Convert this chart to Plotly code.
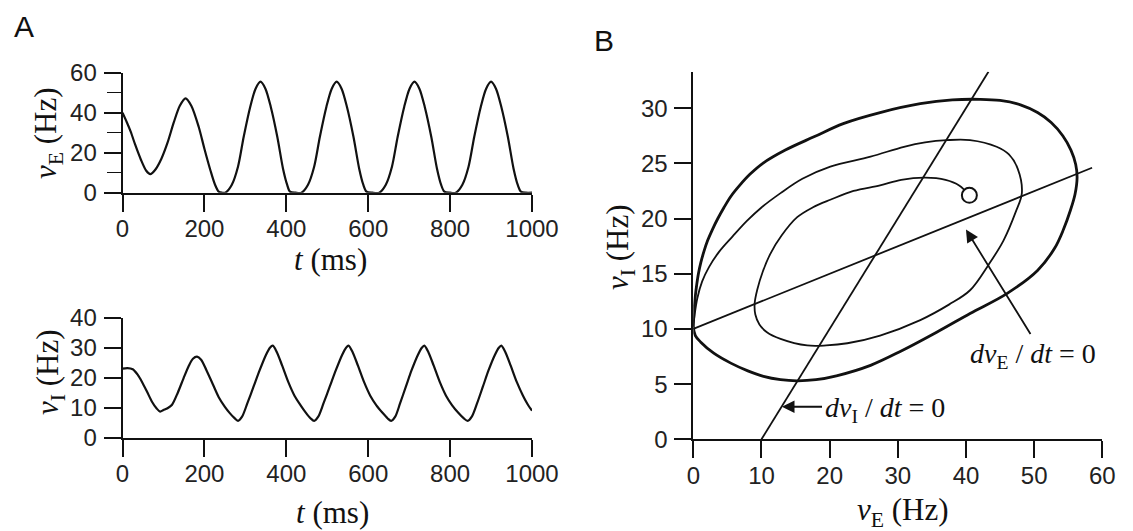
import plotly.graph_objects as go

# ---------------- data ----------------
# Panel A (top): excitatory rate v_E(t)
t_E = [0, 10, 20, 31, 45, 58, 68, 80, 95, 110, 125, 140, 154, 168, 186, 200, 215, 226, 235, 243, 251,
       267, 282, 296, 312, 325, 337, 349, 362, 378, 392, 402, 409, 423, 437,
       453, 468, 482, 498, 511, 523, 535, 548, 564, 578, 588, 596, 610, 627,
       643, 658, 672, 688, 701, 713, 725, 738, 754, 768, 778, 786, 800, 814,
       830, 845, 859, 875, 888, 900, 912, 925, 941, 955, 965, 973, 985, 1000]
v_E = [40, 35.5, 30.5, 24, 16.5, 11, 9.3, 11.5, 17, 25, 35, 43.5, 47.2, 43.5, 33, 22, 11, 4, 0.5, 0, 0,
       4, 13, 28, 43, 52, 55.5, 52, 43, 28, 12, 4, 0.5, 0, 0,
       4, 13, 28, 43, 52, 55.5, 52, 43, 28, 12, 4, 0.5, 0, 0,
       4, 13, 28, 43, 52, 55.5, 52, 43, 28, 12, 4, 0.5, 0, 0,
       4, 13, 28, 43, 52, 55.5, 52, 43, 28, 12, 4, 0.5, 0, 0]

# Panel A (bottom): inhibitory rate v_I(t)
t_I = [0, 12, 25, 37, 48, 60, 72, 83, 92, 100, 110, 121, 135, 149, 162, 172, 182, 192, 205, 220, 235, 250, 262, 273, 282,
       292, 305, 320, 335, 350, 360, 367, 377, 390, 405, 420, 435, 448, 459, 468,
       478, 491, 506, 521, 536, 546, 552, 562, 575, 590, 605, 620, 635, 647, 656,
       666, 678, 692, 706, 721, 731, 737, 747, 760, 775, 790, 805, 820, 833, 843,
       853, 866, 880, 894, 909, 919, 925, 935, 948, 963, 978, 990, 1000]
v_I = [23, 23.2, 22.8, 21, 18.5, 15.3, 12, 9.8, 8.7, 9.2, 9.8, 11, 15, 19.8, 24, 26.3, 27, 26, 22.5, 18, 13.5, 10.3, 8.2, 6.6, 5.6,
       7, 11.5, 17, 22.5, 27.5, 30, 30.7, 28.5, 24, 18.5, 14, 10.8, 8.3, 6.5, 5.6,
       7, 11.5, 17, 22.5, 27.5, 30, 30.7, 28.5, 24, 18.5, 14, 10.8, 8.3, 6.5, 5.6,
       7, 11.5, 17, 22.5, 27.5, 30, 30.7, 28.5, 24, 18.5, 14, 10.8, 8.3, 6.5, 5.6,
       7, 11.5, 17, 22.5, 27.5, 30, 30.7, 28.5, 24, 18.5, 14, 11, 9]

# Panel B: spiral trajectory from the initial point outwards
spiral_E = [40.5, 39, 37, 34, 30.5, 27.4, 23.5, 20.1, 17.5, 15.2, 13, 11.3, 10.2, 9.4, 9.0, 9.1, 9.7, 10.8, 12.8, 16.7, 19.5,
            22.6, 27.4, 33.3, 37.5, 40.6, 43.3, 45.5, 47.3, 48.2, 47.6, 46.3, 44.5, 40.6, 37.2, 34, 30.9, 26,
            20.1, 16, 12.8, 10, 7.9, 5.8, 3.8, 2.3, 1.3, 0.6, 0.2, 0.0]
spiral_I = [22.1, 23.0, 23.5, 23.7, 23.5, 23.0, 22.5, 21.7, 21.0, 20.1, 18.5, 16.8, 15.2, 13.6, 12.3, 11.3, 10.4, 9.7, 9.1, 8.5, 8.5,
            8.7, 9.4, 10.8, 12.2, 13.5, 15.8, 18, 20.6, 22.3, 24.5, 25.8, 26.5, 27.1, 27.1, 26.9, 26.5, 25.6,
            24.7, 23.6, 22.3, 21, 19.8, 18.4, 17, 15.6, 14.3, 12.8, 11.3, 10.2]

# Panel B: limit cycle
cycle_E = [0.0, 0.3, 1.1, 3, 5.5, 8, 10.3, 12.8, 15.2, 18, 21, 26, 30.5, 35.7, 40.6, 46, 50.5, 53, 54.3, 55.3,
           56.0, 56.3, 56.1, 55.4, 54.2, 52.5, 50.5, 48, 45, 42, 38, 33.3, 27.4, 22, 17.7, 13.5, 10.2, 8.3, 6.8, 5.5,
           4.5, 3.6, 2.8, 2.1, 1.55, 1.1, 0.75, 0.5, 0.3, 0.15, 0.05, 0.0]
cycle_I = [10.2, 9.4, 8.8, 7.8, 6.9, 6.2, 5.7, 5.4, 5.3, 5.4, 5.75, 6.7, 8.0, 9.7, 11.4, 13.2, 15.3, 17.3, 19.0, 20.7,
           22.2, 23.7, 24.9, 26.2, 27.5, 28.7, 29.6, 30.3, 30.7, 30.8, 30.75, 30.4, 29.6, 28.6, 27.4, 26.2, 25, 24, 23, 22,
           21, 20, 19, 18, 17, 16, 15, 14, 13, 12, 11, 10.2]

# Nullclines (straight lines, end points)
nullE_E = [0, 58.5]
nullE_I = [10, 24.6]
nullI_E = [10, 43.3]
nullI_I = [0, 33.3]

start_E = [40.5]
start_I = [22.1]

t_ticks = [0, 200, 400, 600, 800, 1000]
vE_ticks = [0, 20, 40, 60]
vE_minor = [10, 30, 50]
vI_ticks = [0, 10, 20, 30, 40]
B_x_ticks = [0, 10, 20, 30, 40, 50, 60]
B_y_ticks = [0, 5, 10, 15, 20, 25, 30]

# ---------------- figure ----------------
W, H = 1133, 531
def px(x):
    return x / W
def py(y):
    return 1 - y / H

SANS = "Liberation Sans, Arial, sans-serif"
SERIF = "Liberation Serif, Times New Roman, serif"
INK = "#111111"
TICKFONT = dict(family=SANS, size=24, color="#222222")

fig = go.Figure()

fig.add_trace(go.Scatter(x=t_E, y=v_E, mode="lines", xaxis="x", yaxis="y",
                         line=dict(color=INK, width=2.2, shape="spline", smoothing=0.8)))
fig.add_trace(go.Scatter(x=t_I, y=v_I, mode="lines", xaxis="x2", yaxis="y2",
                         line=dict(color=INK, width=2.2, shape="spline", smoothing=0.8)))
fig.add_trace(go.Scatter(x=nullE_E, y=nullE_I, mode="lines", xaxis="x3", yaxis="y3",
                         line=dict(color=INK, width=1.8)))
fig.add_trace(go.Scatter(x=nullI_E, y=nullI_I, mode="lines", xaxis="x3", yaxis="y3",
                         line=dict(color=INK, width=1.8)))
fig.add_trace(go.Scatter(x=spiral_E, y=spiral_I, mode="lines", xaxis="x3", yaxis="y3",
                         line=dict(color=INK, width=1.8, shape="spline", smoothing=1.0)))
fig.add_trace(go.Scatter(x=cycle_E, y=cycle_I, mode="lines", xaxis="x3", yaxis="y3",
                         line=dict(color=INK, width=2.8, shape="spline", smoothing=1.0)))
fig.add_trace(go.Scatter(x=start_E, y=start_I, mode="markers", xaxis="x3", yaxis="y3",
                         marker=dict(symbol="circle", size=15, color="white",
                                     line=dict(color=INK, width=2))))

def xax(domain, anchor, rng, ticks):
    return dict(domain=domain, anchor=anchor, range=rng, tickvals=ticks, automargin=False,
                ticks="outside", ticklen=17, tickwidth=1.6, tickcolor=INK,
                showline=True, linewidth=1.8, linecolor=INK, ticklabelstandoff=-3,
                showgrid=False, zeroline=False, tickfont=TICKFONT)

def yax(domain, anchor, rng, ticks, minor=None):
    d = dict(domain=domain, anchor=anchor, range=rng, tickvals=ticks, automargin=False,
             ticks="outside", ticklen=17, tickwidth=1.6, tickcolor=INK,
             showline=True, linewidth=1.8, linecolor=INK,
             showgrid=False, zeroline=False, tickfont=TICKFONT, ticklabelstandoff=2)
    if minor:
        d["minor"] = dict(tickvals=minor, ticks="outside", ticklen=14, tickwidth=1.4,
                          tickcolor=INK, showgrid=False)
    return d

fig.update_layout(
    template="none",
    width=W, height=H,
    margin=dict(l=0, r=0, t=0, b=0, pad=0),
    paper_bgcolor="white", plot_bgcolor="white",
    showlegend=False,
    xaxis=xax([px(122.5), px(532)], "y", [0, 1000], t_ticks),
    yaxis=yax([py(192.7), py(72.7)], "x", [0, 60], vE_ticks, vE_minor),
    xaxis2=xax([px(122.5), px(532)], "y2", [0, 1000], t_ticks),
    yaxis2=yax([py(437.7), py(317.7)], "x2", [0, 40], vI_ticks),
    xaxis3=xax([px(693.3), px(1102.3)], "y3", [0, 60], B_x_ticks),
    yaxis3=yax([py(439.3), py(71.7)], "x3", [0, 33.3], B_y_ticks),
)

TITLEFONT = dict(family=SERIF, size=31, color=INK)
LABELFONT = dict(family=SERIF, size=28, color=INK)
ann = []
ann.append(dict(text="A", x=px(24), y=py(27), xref="paper", yref="paper", showarrow=False,
                font=dict(family=SANS, size=30, color=INK), xanchor="center", yanchor="middle"))
ann.append(dict(text="B", x=px(604), y=py(40), xref="paper", yref="paper", showarrow=False,
                font=dict(family=SANS, size=30, color=INK), xanchor="center", yanchor="middle"))
ann.append(dict(text="<i>t</i> (ms)", x=px(330), y=py(259), xref="paper", yref="paper", showarrow=False,
                font=TITLEFONT, xanchor="center", yanchor="middle"))
ann.append(dict(text="<i>t</i> (ms)", x=px(332), y=py(512), xref="paper", yref="paper", showarrow=False,
                font=TITLEFONT, xanchor="center", yanchor="middle"))
ann.append(dict(text="<i>v</i><sub>E</sub> (Hz)", x=px(48), y=py(133), xref="paper", yref="paper",
                showarrow=False, textangle=-90, font=TITLEFONT, xanchor="center", yanchor="middle"))
ann.append(dict(text="<i>v</i><sub>I</sub> (Hz)", x=px(50), y=py(372), xref="paper", yref="paper",
                showarrow=False, textangle=-90, font=TITLEFONT, xanchor="center", yanchor="middle"))
ann.append(dict(text="<i>v</i><sub>I</sub> (Hz)", x=px(620), y=py(247), xref="paper", yref="paper",
                showarrow=False, textangle=-90, font=TITLEFONT, xanchor="center", yanchor="middle"))
ann.append(dict(text="<i>v</i><sub>E</sub> (Hz)", x=px(903), y=py(512), xref="paper", yref="paper",
                showarrow=False, font=TITLEFONT, xanchor="center", yanchor="middle"))
# nullcline labels with arrows
ann.append(dict(x=40.0, y=19.0, ax=49.6, ay=9.4, xref="x3", yref="y3", axref="x3", ayref="y3",
                text="", showarrow=True, arrowhead=2, arrowsize=1.4, arrowwidth=1.8, arrowcolor=INK))
ann.append(dict(text="<i>dv</i><sub>E</sub> / <i>dt</i> = 0", x=49.9, y=7.6, xref="x3", yref="y3",
                showarrow=False, font=LABELFONT, xanchor="center", yanchor="middle"))
ann.append(dict(x=13.0, y=2.95, ax=19.1, ay=2.95, xref="x3", yref="y3", axref="x3", ayref="y3",
                text="", showarrow=True, arrowhead=2, arrowsize=1.4, arrowwidth=1.8, arrowcolor=INK))
ann.append(dict(text="<i>dv</i><sub>I</sub> / <i>dt</i> = 0", x=19.0, y=2.7, xref="x3", yref="y3",
                showarrow=False, font=LABELFONT, xanchor="left", yanchor="middle"))
fig.update_layout(annotations=ann)

fig.write_html("out.html", config={"displayModeBar": False},
               post_script="document.body.style.margin='0';document.body.style.overflow='hidden';")
